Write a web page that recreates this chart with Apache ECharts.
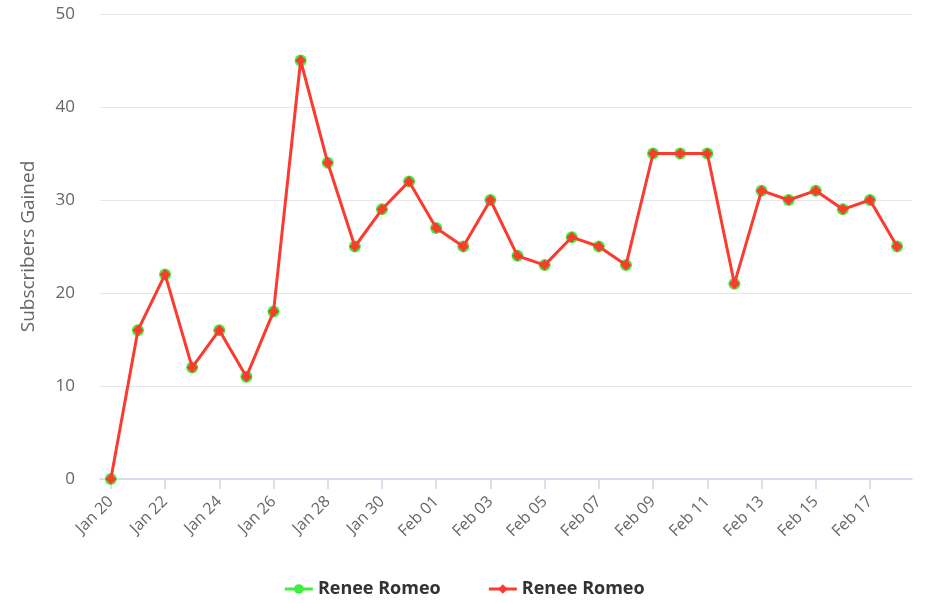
<!DOCTYPE html>
<html>
<head>
<meta charset="utf-8">
<script src="https://cdn.jsdelivr.net/npm/echarts@6/dist/echarts.min.js"></script>
<style>
  html, body { margin: 0; padding: 0; background: #fff; }
  #chart { width: 928px; height: 603px; }
</style>
</head>
<body>
<div id="chart"></div>
<script>
// day labels, one per point
var days = ['Jan 20', 'Jan 21', 'Jan 22', 'Jan 23', 'Jan 24', 'Jan 25', 'Jan 26', 'Jan 27',
  'Jan 28', 'Jan 29', 'Jan 30', 'Jan 31', 'Feb 01', 'Feb 02', 'Feb 03', 'Feb 04', 'Feb 05',
  'Feb 06', 'Feb 07', 'Feb 08', 'Feb 09', 'Feb 10', 'Feb 11', 'Feb 12', 'Feb 13', 'Feb 14',
  'Feb 15', 'Feb 16', 'Feb 17', 'Feb 18']
var subscribers = [0, 16, 22, 12, 16, 11, 18, 45, 34, 25, 29, 32, 27, 25, 30, 24, 23, 26, 25, 23,
  35, 35, 35, 21, 31, 30, 31, 29, 30, 25]
// x ticks every other day
var xTicks = [0, 2, 4, 6, 8, 10, 12, 14, 16, 18, 20, 22, 24, 26, 28]
var yTicks = [0, 10, 20, 30, 40, 50]
var seriesName = 'Renee Romeo'

var points = subscribers.map(function(v, i) { return [i, v] })

var chart = echarts.init(document.getElementById('chart'))
chart.setOption({
  animation: false,
  grid: {
    left: 100,
    right: 16,
    top: 14,
    bottom: 124
  },
  legend: {
    bottom: 0,
    left: 'center',
    itemWidth: 28,
    itemHeight: 12,
    itemGap: 42,
    textStyle: {
      color: '#333',
      fontSize: 18,
      fontWeight: 'bold',
      fontFamily: 'Open Sans'
    },
    lineStyle: { width: 3 },
    data: [seriesName + ' ', seriesName]
  },
  xAxis: {
    type: 'value',
    min: -0.4,
    max: 29.55,
    splitLine: { show: false },
    axisLine: { lineStyle: { color: '#ccd6eb', width: 1.5 } },
    axisTick: {
      show: true,
      length: 10,
      customValues: xTicks,
      lineStyle: { color: '#ccd6eb', width: 1.5 }
    },
    axisLabel: {
      rotate: 45,
      customValues: xTicks,
      color: '#666',
      fontSize: 16,
      fontFamily: 'Open Sans',
      margin: 20,
      formatter: function(v) { return days[Math.round(v)] }
    }
  },
  yAxis: {
    type: 'value',
    min: 0,
    max: 50,
    interval: 10,
    name: 'Subscribers Gained',
    nameLocation: 'middle',
    nameGap: 62,
    nameTextStyle: { color: '#666', fontSize: 19, fontFamily: 'Open Sans' },
    axisLine: { show: false },
    axisTick: { show: false },
    axisLabel: {
      color: '#666',
      fontSize: 17,
      fontFamily: 'Open Sans',
      margin: 25,
      customValues: yTicks
    },
    splitLine: { lineStyle: { color: '#e6e6e6', width: 1 } }
  },
  series: [
    {
      name: seriesName + ' ',
      type: 'line',
      data: points,
      symbol: 'circle',
      symbolSize: 12,
      color: '#3cf03c',
      itemStyle: { color: '#3cf03c' },
      lineStyle: { color: '#3cf03c', width: 1.5 },
      z: 2
    },
    {
      name: seriesName,
      type: 'line',
      data: points,
      symbol: 'diamond',
      symbolSize: 11,
      color: '#fb3a30',
      itemStyle: { color: '#fb3a30' },
      lineStyle: { color: '#fb3a30', width: 3 },
      z: 3
    }
  ]
})
</script>
</body>
</html>
